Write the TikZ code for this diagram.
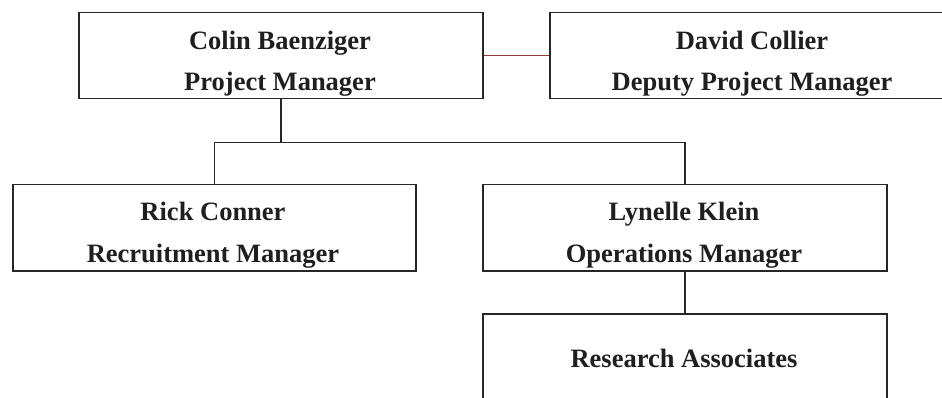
\documentclass[tikz,border=0pt]{standalone}
\usepackage{fontspec}
\usetikzlibrary{calc}
\setmainfont{Liberation Serif}
\definecolor{linkred}{RGB}{150,60,50}
\begin{document}
\begin{tikzpicture}[x=1pt,y=-1pt,
  box/.style={draw=black!85, line width=1.5pt, rectangle, inner sep=0pt, anchor=north west},
  lbl/.style={anchor=base, font=\fontsize{26.5}{30}\selectfont\bfseries, text=black!88, inner sep=0pt},
  conn/.style={draw=black!85, line width=1.5pt}]
\useasboundingbox (0,0) rectangle (942,398);
\clip (0,0) rectangle (942,398);
\fill[white] (0,0) rectangle (942,398);
% boxes
\node[box, minimum width=404pt, minimum height=86pt] (colin) at (78,12) {};
\node[box, minimum width=406pt, minimum height=86pt] (david) at (549,12) {};
\node[box, minimum width=403pt, minimum height=86pt] (rick) at (12,184) {};
\node[box, minimum width=404pt, minimum height=86pt] (lynelle) at (482,184) {};
\node[box, minimum width=404pt, minimum height=90pt] (research) at (482,313) {};
% texts
\node[lbl] (t1) at (280,50) {Colin Baenziger};
\node[lbl] (t2) at (280,91) {Project Manager};
\node[lbl] (t3) at (752,50) {David Collier};
\node[lbl] (t4) at (752,91) {Deputy Project Manager};
\node[lbl] (t5) at (213,221) {Rick Conner};
\node[lbl] (t6) at (213,262) {Recruitment Manager};
\node[lbl] (t7) at (684,221) {Lynelle Klein};
\node[lbl] (t8) at (684,262) {Operations Manager};
\node[lbl] (t9) at (684,367) {Research Associates};
% connectors
\coordinate (j) at ($(colin.south)+(0,43)$);
\draw[draw=linkred, line width=1.2pt] (colin.east) -- (david.west);
\draw[conn] (colin.south) -- (j);
\draw[conn] (rick.north) |- (j) -| (lynelle.north);
\draw[conn] (lynelle.south) -- (research.north);
\end{tikzpicture}
\end{document}
